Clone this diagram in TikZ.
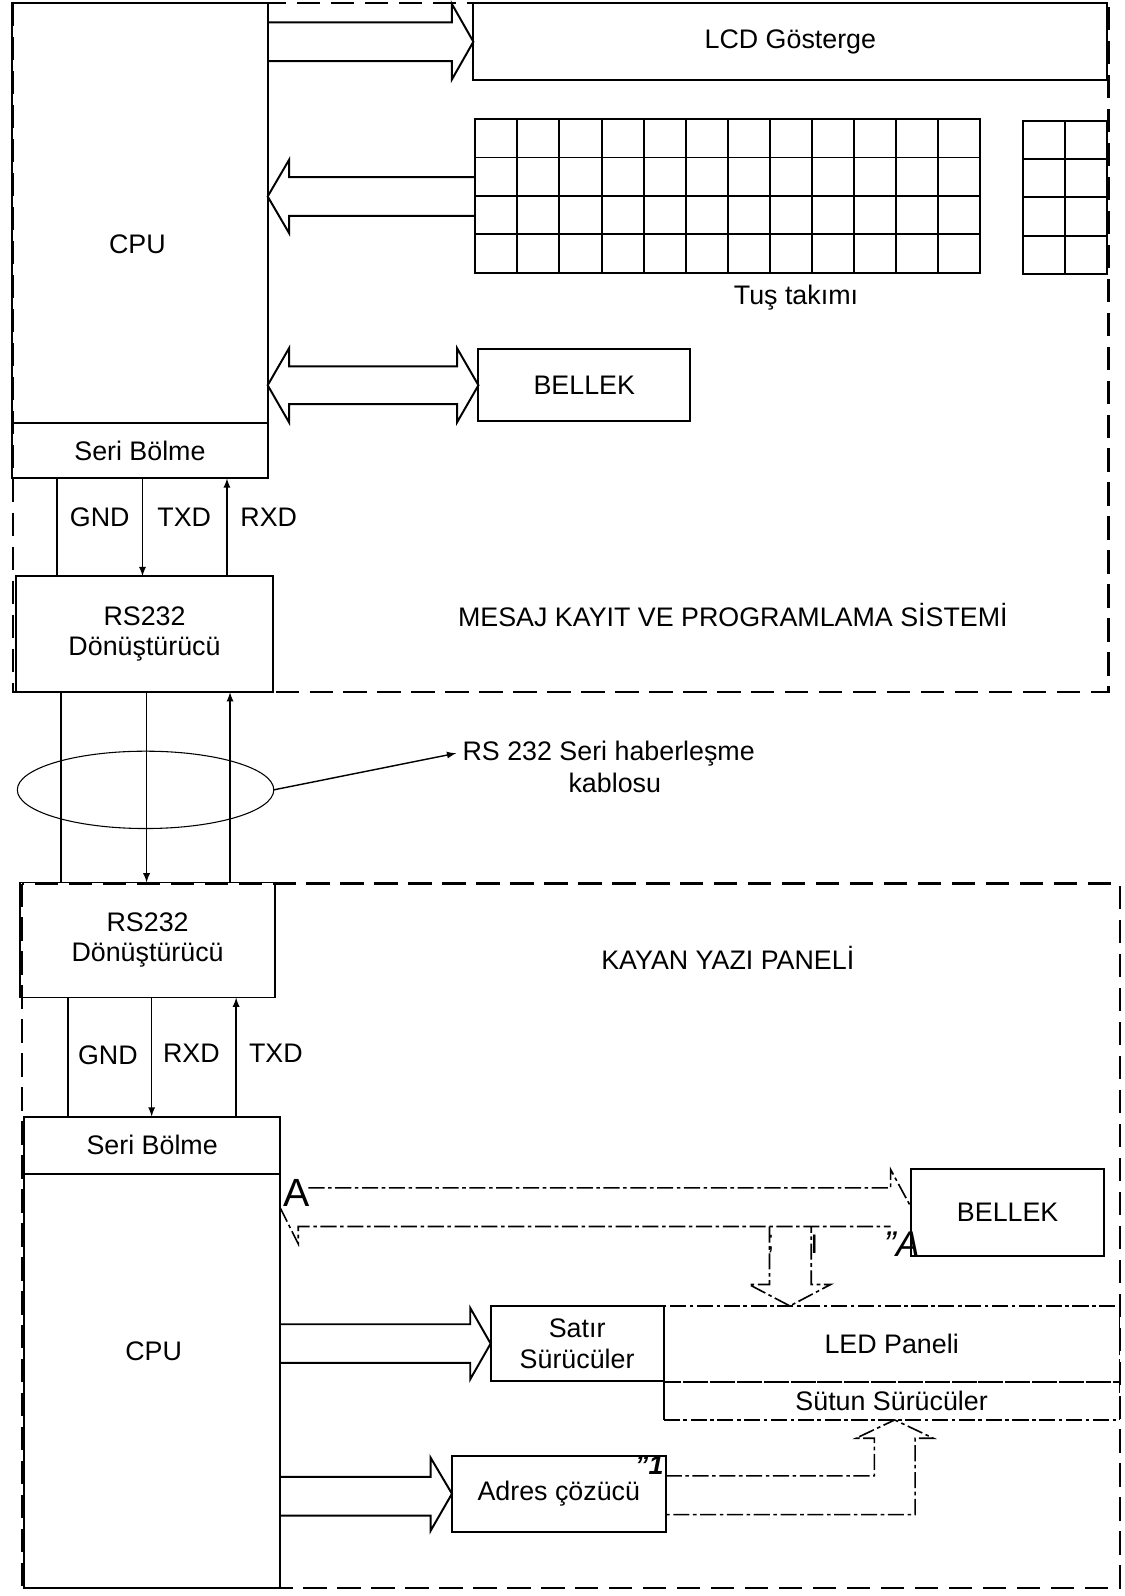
\documentclass[tikz,border=0pt]{standalone}
\usepackage{fontspec}
\setmainfont{Liberation Sans}
\usetikzlibrary{shapes.geometric}
\begin{document}
\begin{tikzpicture}[x=0.02cm,y=-0.02cm,>=latex,
  every node/.style={font=\fontsize{15}{17}\selectfont},
  box/.style={draw, rectangle, line width=1.1pt, inner sep=0pt, outer sep=0pt},
  bus/.style={line width=1.1pt, line join=miter},
  faded/.style={line width=0.9pt, dash pattern=on 9pt off 2pt on 2pt off 2pt},
  wire/.style={line width=0.8pt},
  encl/.style={line width=1.2pt, dash pattern=on 13pt off 6pt}]
\useasboundingbox (0,0) rectangle (1105,1568);
\draw[encl] (13,3) rectangle (1089,680);
\draw[encl] (22,868) rectangle (1100,1560);
\node[box, minimum width=5.02cm, minimum height=8.26cm] (cpuA) at (137.5,209.5) {};
\node (cpuAtxt) at (135,240) {CPU};
\node[box, minimum width=5.02cm, minimum height=1.08cm] (serA) at (137.5,443) {Seri Bölme};
\node[box, minimum width=12.46cm, minimum height=1.52cm] (lcd) at (776.5,41) {LCD Gösterge};
\node[box, minimum width=9.92cm, minimum height=3.02cm] (keys) at (715,192.5) {};
\node[box, minimum width=1.66cm, minimum height=3.0cm] (keys2) at (1046.5,194) {};
\foreach \i in {1,...,11} \draw[bus] (467+\i*41.33,117) -- (467+\i*41.33,268);
\foreach \j in {1,2,3} \draw[bus] (467,117+\j*37.75) -- (963,117+\j*37.75);
\draw[bus] (1046.5,119) -- (1046.5,269);
\foreach \j in {1,2,3} \draw[bus] (1005,119+\j*37.5) -- (1088,119+\j*37.5);
\node (tus) at (782,292) {Tuş takımı};
\node[box, minimum width=4.16cm, minimum height=1.42cm] (bellekA) at (574,378.5) {BELLEK};
\node[box, minimum width=5.04cm, minimum height=2.28cm, align=center] (rsA) at (142,623) {RS232\\Dönüştürücü};
\node (mesaj) at (720,604) {MESAJ KAYIT VE PROGRAMLAMA SİSTEMİ};
\draw[bus] (cpuA.east |- 0,22) -- (444,22) -- (444,4) -- (lcd.west) -- (444,78) -- (444,60) -- (cpuA.east |- 0,60);
\draw[bus] (keys.west |- 0,174) -- (284,174) -- (284,157) -- (cpuA.east |- 0,193) -- (284,229) -- (284,212) -- (keys.west |- 0,212);
\draw[bus] (cpuA.east |- bellekA.west) -- (284,342) -- (284,360) -- (449,360) -- (449,342) -- (bellekA.west) -- (449,415) -- (449,397) -- (284,397) -- (284,415) -- cycle;
\draw[wire] (serA.south -| 56,0) -- (rsA.north -| 56,0);
\draw[wire,->] (serA.south -| 140,0) -- (rsA.north -| 140,0);
\draw[wire,->] (rsA.north -| 223,0) -- (serA.south -| 223,0);
\node (gndA) at (98,508) {GND};
\node (txdA) at (181,508) {TXD};
\node (rxdA) at (264,508) {RXD};
\node[draw, ellipse, line width=0.6pt, minimum width=5.04cm, minimum height=1.52cm, inner sep=0pt, outer sep=0pt] (kablo) at (143,776) {};
\node (kabloTxt) at (598,740) {RS 232 Seri haberleşme};
\node (kabloTxt2) at (604,769) {kablosu};
\draw[wire,->] (kablo.east) -- (kabloTxt.west);
\node[box, minimum width=5.0cm, minimum height=2.26cm, align=center] (rsB) at (145,923.5) {RS232\\Dönüştürücü};
\draw[wire] (rsA.south -| 60,0) -- (rsB.north -| 60,0);
\draw[wire,->] (rsA.south -| 144,0) -- (rsB.north -| 144,0);
\draw[wire,->] (rsB.north -| 226,0) -- (rsA.south -| 226,0);
\node (kayan) at (715,941) {KAYAN YAZI PANELİ};
\node[box, minimum width=5.02cm, minimum height=1.12cm] (serB) at (149.5,1125) {Seri Bölme};
\node[box, minimum width=5.02cm, minimum height=8.14cm] (cpuB) at (149.5,1356.5) {};
\node (cpuBtxt) at (151,1328) {CPU};
\draw[wire] (rsB.south -| 67,0) -- (serB.north -| 67,0);
\draw[wire,->] (rsB.south -| 149,0) -- (serB.north -| 149,0);
\draw[wire,->] (serB.north -| 232,0) -- (rsB.south -| 232,0);
\node (gndB) at (106,1037) {GND};
\node (rxdB) at (188,1035) {RXD};
\node (txdB) at (271,1035) {TXD};
\node[box, minimum width=3.8cm, minimum height=1.72cm] (bellekB) at (990,1191) {BELLEK};
\node[box, minimum width=3.4cm, minimum height=1.48cm, align=center] (satir) at (567,1320) {Satır\\Sürücüler};
\node[box, faded, minimum width=8.96cm, minimum height=1.5cm] (led) at (876,1320.5) {LED Paneli};
\node[box, faded, minimum width=8.96cm, minimum height=0.74cm] (sutun) at (876,1376.5) {Sütun Sürücüler};
\draw[bus] (led.north west) -- (sutun.south west);
\node[box, minimum width=4.2cm, minimum height=1.5cm] (adres) at (549,1467.5) {Adres çözücü};
\draw[faded] (303,1167) -- (875,1167) -- (875,1149) -- (bellekB.west |- 0,1186);
\draw[faded] (cpuB.east |- 0,1186) -- (293,1222) -- (293,1205) -- (875,1205);
\node (aL) at (291,1172) {\fontsize{22}{24}\selectfont A};
\node (aR) at (886,1222) {\fontsize{20}{22}\selectfont\itshape "A};
\draw[faded] (756,1205) -- (756,1262) -- (736,1262) -- (led.north -| 776,0) -- (816,1262) -- (797,1262) -- (797,1205);
\node (semi) at (757,1222) {;};
\node (bar) at (800,1222) {I};
\draw[bus] (cpuB.east |- 0,1301) -- (462,1301) -- (462,1285) -- (satir.west) -- (462,1355) -- (462,1339) -- (cpuB.east |- 0,1339);
\draw[bus] (cpuB.east |- 0,1451) -- (423,1451) -- (423,1432) -- (adres.west) -- (423,1504) -- (423,1489) -- (cpuB.east |- 0,1489);
\draw[faded] (adres.east |- 0,1450) -- (859,1450) -- (859,1413) -- (841,1413) -- (sutun.south -| 879,0) -- (917,1413) -- (899,1413) -- (899,1488) -- (adres.east |- 0,1488);
\node (one) at (638,1440) {\bfseries\itshape "1};
\end{tikzpicture}
\end{document}
